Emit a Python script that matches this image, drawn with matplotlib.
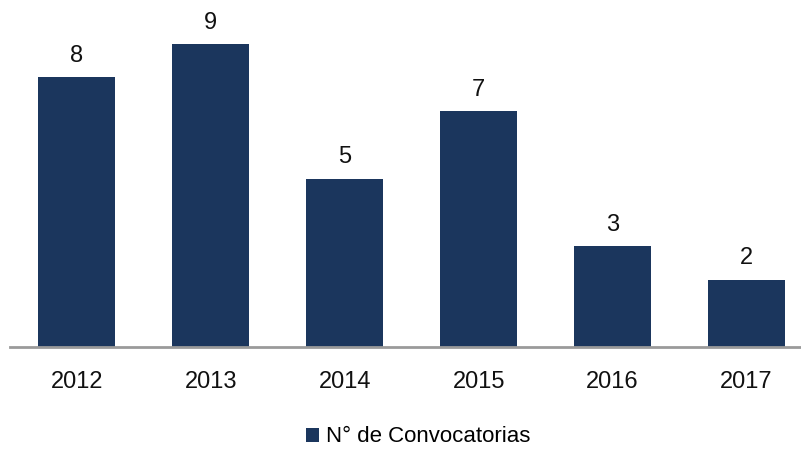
import matplotlib.pyplot as plt

plt.rcParams['font.family'] = ['Liberation Sans', 'DejaVu Sans']

years = ['2012', '2013', '2014', '2015', '2016', '2017']
convocatorias = [8, 9, 5, 7, 3, 2]
bar_color = '#1B365D'

fig = plt.figure(figsize=(8.01, 4.49), dpi=100)
ax = fig.add_axes([10 / 801, 1 - 347 / 449, 790 / 801, 337 / 449])

x = range(len(years))
bars = ax.bar(x, convocatorias, width=0.575, color=bar_color, label='N° de Convocatorias')

for i, v in zip(x, convocatorias):
    ax.text(i, v + 0.3, str(v), ha='center', va='bottom', fontsize=17, color='#111111')

ax.set_xlim(-0.5, 5.4)
ax.set_ylim(0, 10)
ax.set_xticks(list(x))
ax.set_xticklabels(years, fontsize=17, color='#111111')
ax.tick_params(axis='x', length=0, pad=17)
ax.set_yticks([])

for side in ['top', 'right', 'left']:
    ax.spines[side].set_visible(False)
ax.spines['bottom'].set_color('#9a9a9a')
ax.spines['bottom'].set_linewidth(2)

fig.legend(handles=[bars], labels=['N° de Convocatorias'], loc='center',
           bbox_to_anchor=(418 / 801, 1 - 437 / 449), frameon=False,
           fontsize=16, handlelength=0.6, handleheight=0.6, handletextpad=0.3)

fig.savefig('out.png', dpi=100)
